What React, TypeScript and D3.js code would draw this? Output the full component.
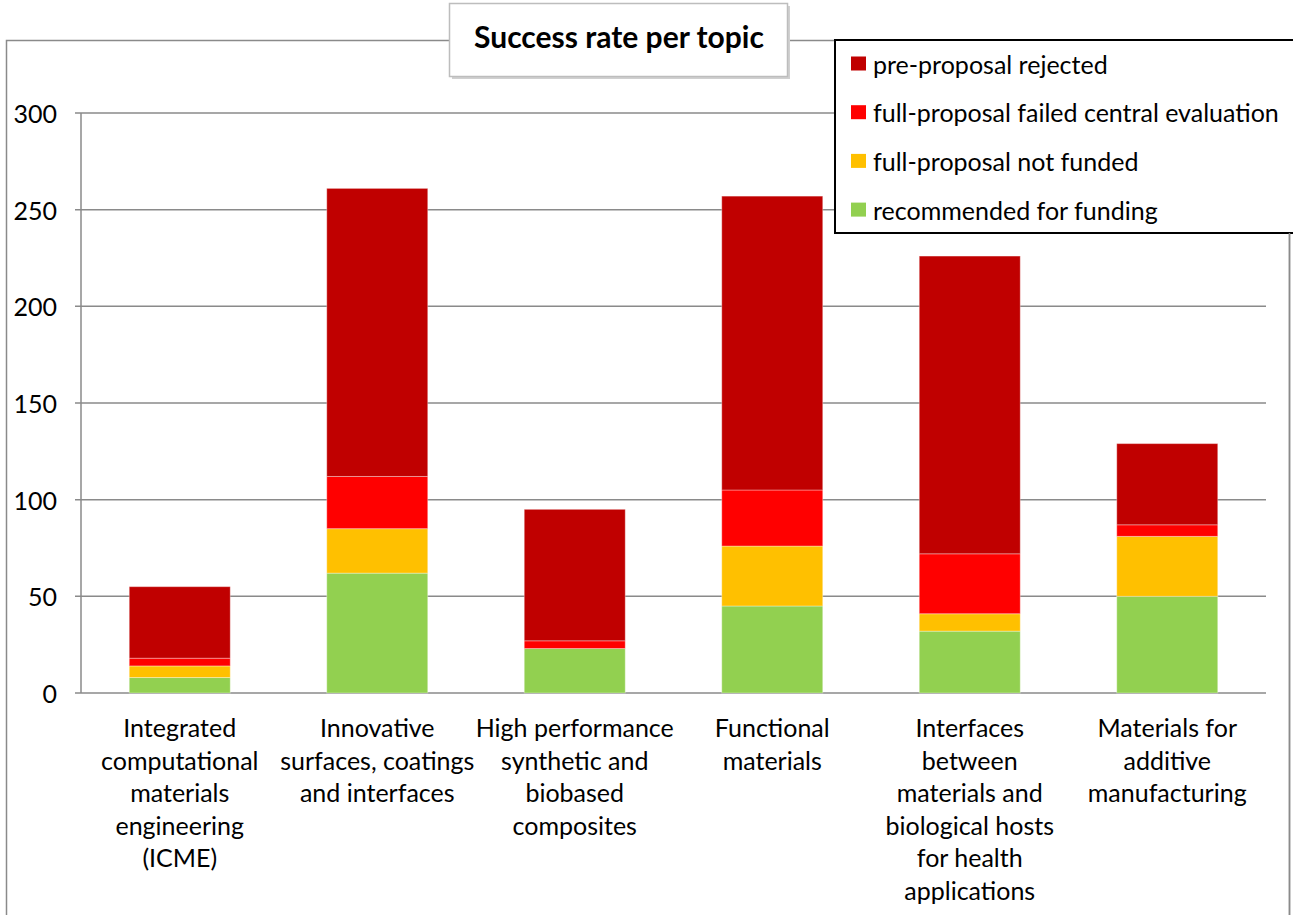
import { useMemo } from 'react';
import * as d3 from 'd3';

// topic labels, already broken into the lines the original chart uses
const topicLines: string[][] = [
  ['Integrated', 'computational', 'materials', 'engineering', '(ICME)'],
  ['Innovative', 'surfaces, coatings', 'and interfaces'],
  ['High performance', 'synthetic and', 'biobased', 'composites'],
  ['Functional', 'materials'],
  ['Interfaces', 'between', 'materials and', 'biological hosts', 'for health', 'applications'],
  ['Materials for', 'additive', 'manufacturing'],
];
const topics = topicLines.map((l) => l.join(' '));

const recommended = [8, 62, 23, 45, 32, 50];
const notFunded = [6, 23, 0, 31, 9, 31];
const failedCentral = [4, 27, 4, 29, 31, 6];
const preRejected = [37, 149, 68, 152, 154, 42];

const yTickValues = [0, 50, 100, 150, 200, 250, 300];

const seriesKeys = ['recommended', 'notFunded', 'failedCentral', 'preRejected'] as const;
const seriesNames: Record<string, string> = {
  preRejected: 'pre-proposal rejected',
  failedCentral: 'full-proposal failed central evaluation',
  notFunded: 'full-proposal not funded',
  recommended: 'recommended for funding',
};
const seriesColors: Record<string, string> = {
  preRejected: '#C00000',
  failedCentral: '#FF0000',
  notFunded: '#FFC000',
  recommended: '#92D050',
};
const legendOrder = ['preRejected', 'failedCentral', 'notFunded', 'recommended'];

const W = 1293;
const H = 915;
const PLOT = { left: 81, right: 1266, top: 113, bottom: 693 };
const FONT = 'Lato, "Open Sans", sans-serif';
const GRID = '#8a8a8a';

export default function App() {
  const chart = useMemo(() => {
    const rows = topics.map((t, i) => ({
      topic: t,
      recommended: recommended[i],
      notFunded: notFunded[i],
      failedCentral: failedCentral[i],
      preRejected: preRejected[i],
    }));
    const stacked = d3.stack<(typeof rows)[number]>().keys(seriesKeys as unknown as string[])(rows);

    const x = d3.scaleBand<string>()
      .domain(topics)
      .range([PLOT.left, PLOT.right])
      .paddingInner(0.4886)
      .paddingOuter(0.2443);

    const y = d3.scaleLinear().domain([0, 300]).range([PLOT.bottom, PLOT.top]);

    return { stacked, x, y };
  }, []);

  const { stacked, x, y } = chart;

  return (
    <div style={{ position: 'absolute', left: 0, top: 0 }}>
      <svg width={W} height={H} style={{ display: 'block', background: '#fff' }}>
        {/* outer chart frame */}
        <rect x={6.5} y={40.5} width={1283} height={H} fill="#fff" stroke={GRID} strokeWidth={1.5} />

        {/* y gridlines + labels */}
        {yTickValues.map((v) => (
          <g key={v}>
            <line x1={PLOT.left - 6} x2={PLOT.right} y1={y(v)} y2={y(v)} stroke={GRID} strokeWidth={1.5} />
            <text
              x={57}
              y={y(v)}
              textAnchor="end"
              dominantBaseline="central"
              fontSize={25}
              fontFamily={FONT}
              fill="#000"
            >
              {v}
            </text>
          </g>
        ))}
        <line x1={PLOT.left} x2={PLOT.left} y1={PLOT.top} y2={PLOT.bottom} stroke={GRID} strokeWidth={1.5} />

        {/* stacked bars */}
        {stacked.map((s) => (
          <g key={s.key} fill={seriesColors[s.key]}>
            {s.map((d, i) => {
              const h = y(d[0]) - y(d[1]);
              if (h <= 0) return null;
              return (
                <rect
                  key={i}
                  x={x(topics[i])}
                  y={y(d[1])}
                  width={x.bandwidth()}
                  height={h}
                  stroke="rgba(255,255,255,0.35)"
                  strokeWidth={1}
                />
              );
            })}
          </g>
        ))}

        {/* category labels */}
        {topicLines.map((lines, i) => (
          <text
            key={i}
            textAnchor="middle"
            fontSize={25}
            fontFamily={FONT}
            fill="#000"
          >
            {lines.map((ln, j) => (
              <tspan key={j} x={(x(topics[i]) ?? 0) + x.bandwidth() / 2} y={727 + j * 32.5} dominantBaseline="central">
                {ln}
              </tspan>
            ))}
          </text>
        ))}

        {/* title box */}
        <rect x={452} y={6} width={338} height={73} fill="#d0d0d0" />
        <rect x={449.5} y={3.5} width={338} height={73} fill="#fff" stroke="#bdbdbd" strokeWidth={1.5} />
        <text
          x={619}
          y={36}
          textAnchor="middle"
          dominantBaseline="central"
          fontSize={30}
          fontWeight="bold"
          fontFamily={FONT}
          fill="#000"
        >
          Success rate per topic
        </text>

        {/* legend */}
        <rect x={835} y={40} width={480} height={193} fill="#fff" stroke="#000" strokeWidth={2} />
        {legendOrder.map((k, i) => {
          const cy = 63.5 + i * 48.7;
          return (
            <g key={k}>
              <rect x={851} y={cy - 7} width={15} height={14} fill={seriesColors[k]} />
              <text
                x={873}
                y={cy}
                dominantBaseline="central"
                fontSize={25}
                fontFamily={FONT}
                fill="#000"
              >
                {seriesNames[k]}
              </text>
            </g>
          );
        })}
        <line x1={1289.5} x2={1289.5} y1={233} y2={H} stroke={GRID} strokeWidth={1.5} />
      </svg>
    </div>
  );
}
